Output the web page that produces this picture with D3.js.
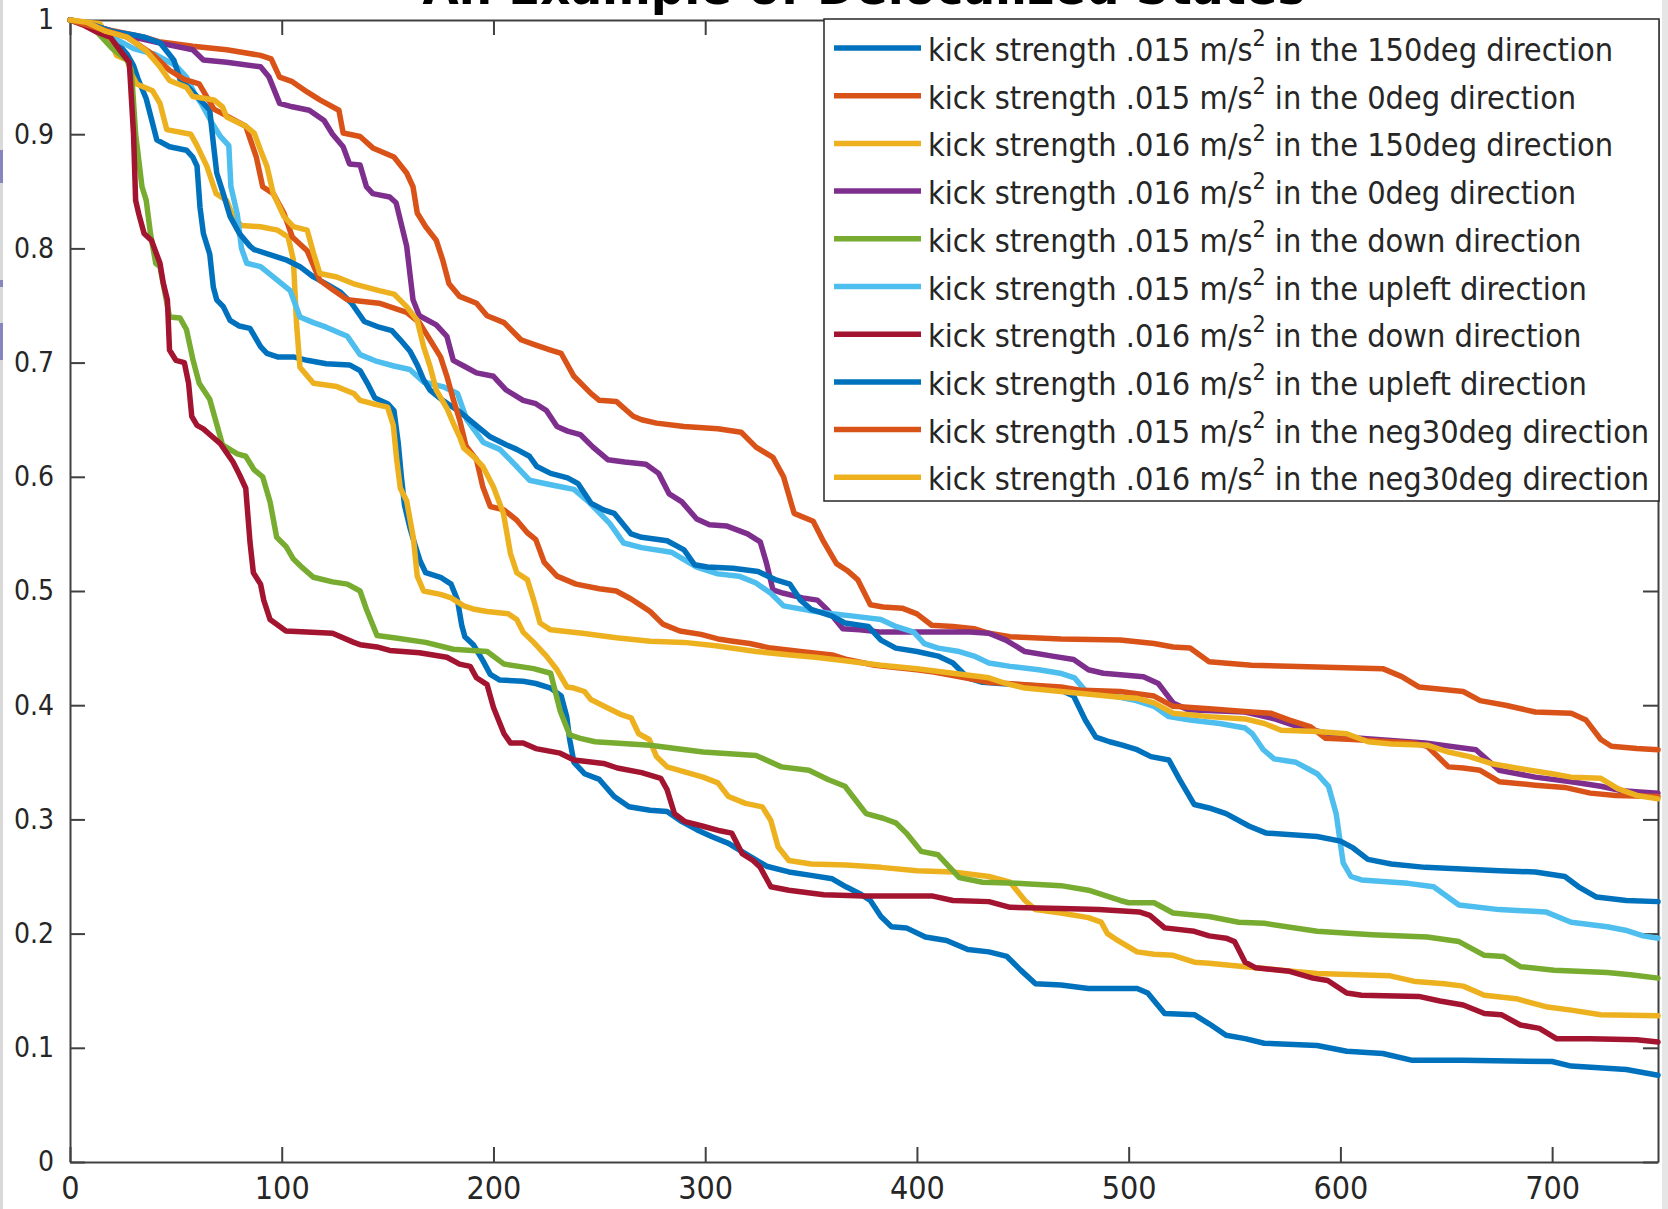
<!DOCTYPE html>
<html lang="en">
<head>
  <meta charset="UTF-8">
  <title>An Example of Delocalized States</title>
  <script src="https://d3js.org/d3.v7.min.js"></script>
  <style>
    body { margin: 0; background: #fff; }
    svg { display: block; }
    .tick text { fill: #262626; }
  </style>
</head>
<body>
<svg width="1668" height="1209"></svg>

<script>
  // tick values
  const xTicks = [0, 100, 200, 300, 400, 500, 600, 700];
  const yTicks = [0, 0.1, 0.2, 0.3, 0.4, 0.5, 0.6, 0.7, 0.8, 0.9, 1];

  // legend parts
  const strengths = [".015", ".015", ".016", ".016", ".015", ".015", ".016", ".016", ".015", ".016"];
  const directions = ["150deg", "0deg", "150deg", "0deg", "down", "upleft", "down", "upleft", "neg30deg", "neg30deg"];
  const colors = ["#0072BD", "#D95319", "#EDB120", "#7E2F8E", "#77AC30", "#4DBEEE", "#A2142F", "#0072BD", "#D95319", "#EDB120"];

  // series, [step, fraction]
  const s015_150 = [[0,1],[10,0.995],[20,0.985],[27,0.97],[30,0.96],[32,0.949],[36,0.931],[41,0.895],[47,0.889],[55,0.886],[58,0.88],[60,0.872],[61.4,0.836],[63,0.813],[66,0.795],[67.7,0.766],[69.3,0.755],[72.4,0.749],[75.6,0.737],[80,0.732],[85,0.73],[90,0.714],[93,0.708],[98,0.705],[105.5,0.705],[112,0.702],[121,0.699],[132,0.698],[137,0.693],[141,0.68],[144,0.669],[150,0.664],[153,0.658],[155,0.63],[156.5,0.6],[158,0.575],[160.6,0.555],[163,0.54],[165.4,0.526],[168,0.516],[175,0.512],[180,0.506],[183,0.492],[185,0.47],[186.5,0.46],[190.5,0.453],[195,0.439],[198.5,0.427],[203,0.422],[214,0.421],[220,0.419],[227,0.415],[232,0.408],[234.6,0.39],[236,0.37],[238,0.35],[243,0.34],[250,0.335],[257,0.32],[264,0.311],[274,0.308],[282,0.307],[289,0.298],[296,0.291],[303,0.285],[311,0.279],[319,0.27],[329,0.259],[339.5,0.254],[350,0.251],[360,0.248],[366.5,0.241],[373,0.235],[378,0.229],[383,0.215],[388,0.206],[395,0.205],[404,0.197],[414,0.194],[424,0.186],[434,0.184],[442.5,0.18],[449,0.168],[456,0.156],[468,0.155],[481,0.152],[504,0.152],[509,0.148],[517,0.13],[531,0.129],[538,0.121],[546,0.111],[555,0.108],[564,0.104],[589,0.102],[603,0.097],[620,0.095],[634,0.089],[658,0.089],[700,0.088],[709,0.084],[735,0.081],[750,0.076]];

  const s015_0 = [[0,1],[10,0.995],[19,0.991],[35,0.985],[42,0.981],[58,0.977],[74,0.974],[90,0.969],[95,0.966],[99,0.95],[105,0.946],[112,0.937],[118,0.93],[127,0.921],[129,0.901],[137,0.898],[143,0.888],[153,0.88],[159,0.866],[162,0.854],[164,0.831],[168,0.819],[173,0.807],[176,0.79],[179,0.769],[184,0.758],[192,0.752],[197,0.741],[205,0.735],[213,0.72],[219,0.716],[227,0.711],[232,0.708],[238,0.688],[246,0.673],[250,0.667],[258,0.666],[266,0.653],[270,0.65],[277,0.647],[290,0.644],[306,0.642],[317,0.639],[324,0.626],[332,0.617],[337,0.6],[342,0.568],[351,0.561],[356,0.543],[362,0.524],[367,0.518],[372,0.51],[378,0.488],[384,0.486],[393,0.485],[400,0.48],[407,0.47],[417,0.469],[427,0.467],[434,0.463],[444,0.46],[468,0.458],[496,0.457],[512,0.454],[521,0.451],[529,0.45],[538,0.438],[558,0.435],[620,0.432],[629,0.425],[637,0.416],[658,0.412],[666,0.404],[678,0.4],[692,0.394],[709,0.393],[716,0.387],[723,0.37],[728,0.364],[740,0.362],[750,0.361]];

  const s016_150 = [[0,1],[7,0.998],[14,0.997],[19,0.982],[22,0.969],[27,0.965],[29,0.953],[31.5,0.944],[39,0.938],[42.5,0.927],[45.7,0.904],[57,0.9],[60,0.89],[64.6,0.872],[69,0.848],[74,0.842],[77,0.828],[81,0.82],[90,0.819],[98,0.816],[103,0.81],[105.5,0.79],[107,0.734],[108.6,0.696],[115,0.682],[126,0.679],[134,0.673],[137,0.667],[143,0.664],[150,0.661],[152.7,0.645],[154.3,0.615],[156,0.59],[159,0.579],[162.2,0.546],[164,0.513],[167,0.5],[175,0.497],[180,0.494],[186,0.487],[191,0.484],[197,0.482],[207,0.48],[211,0.475],[214,0.464],[219,0.455],[225,0.443],[230,0.431],[234.7,0.416],[238,0.415],[243,0.412],[246,0.405],[253.5,0.398],[260,0.392],[265,0.389],[268.6,0.375],[273.6,0.37],[277,0.355],[282,0.346],[299,0.337],[306,0.332],[311,0.32],[319,0.314],[327,0.311],[331,0.299],[334.4,0.276],[339.5,0.264],[350,0.261],[366.5,0.26],[383,0.258],[400,0.255],[417,0.254],[434,0.25],[444,0.245],[451,0.229],[456,0.221],[468,0.218],[481,0.214],[487,0.21],[490,0.2],[494,0.195],[504,0.184],[512,0.182],[521,0.181],[531,0.175],[538,0.174],[555,0.171],[572,0.168],[589,0.165],[623.5,0.163],[635.5,0.158],[649,0.156],[658,0.154],[668,0.146],[683,0.143],[697,0.136],[709,0.133],[723,0.129],[750,0.128]];

  const s016_0 = [[0,1],[10,0.996],[20,0.99],[30,0.985],[42,0.98],[58,0.974],[63,0.965],[74,0.963],[90,0.959],[94,0.95],[99,0.927],[105,0.924],[113,0.921],[120,0.912],[124,0.9],[129,0.889],[132,0.874],[137,0.873],[140,0.854],[143,0.848],[151,0.845],[154,0.84],[159,0.802],[162,0.755],[165,0.741],[173,0.733],[178,0.723],[181,0.702],[186,0.697],[192,0.691],[200,0.688],[206,0.676],[214,0.667],[220,0.664],[225,0.658],[230,0.644],[235,0.64],[241,0.637],[247,0.626],[254,0.615],[262,0.613],[272,0.611],[278,0.603],[283,0.585],[289,0.578],[296,0.563],[302,0.558],[310,0.557],[320,0.55],[326,0.543],[329,0.524],[332,0.501],[337,0.498],[346,0.494],[353,0.492],[358,0.483],[365,0.467],[373,0.466],[383,0.464],[425,0.464],[434,0.463],[442,0.457],[451,0.447],[464,0.443],[474,0.44],[481,0.431],[488,0.428],[507,0.425],[514,0.419],[521,0.402],[528,0.396],[555,0.394],[569,0.388],[582,0.38],[603,0.372],[640,0.367],[664,0.361],[675,0.343],[692,0.337],[709,0.333],[723,0.329],[733,0.325],[750,0.323]];

  const s015_down = [[0,1],[10,0.995],[20,0.975],[27,0.965],[29,0.956],[31,0.9],[34,0.854],[36,0.842],[38,0.813],[40.5,0.787],[42.5,0.784],[47,0.74],[52,0.739],[55,0.729],[58,0.703],[61,0.682],[66,0.668],[69,0.648],[72,0.628],[79,0.62],[83,0.618],[87,0.606],[91,0.6],[94.5,0.578],[97.6,0.547],[102,0.539],[105.5,0.528],[110,0.52],[115,0.512],[124,0.508],[131,0.506],[137,0.5],[140,0.484],[145,0.461],[153,0.459],[168,0.455],[181,0.449],[197,0.447],[205,0.436],[219,0.432],[227,0.428],[231.5,0.395],[236,0.374],[241,0.371],[248,0.368],[274,0.365],[299,0.359],[324,0.356],[336,0.346],[349,0.343],[358,0.335],[366,0.329],[371,0.317],[376,0.305],[384,0.301],[390,0.297],[395,0.288],[402,0.272],[410,0.269],[420,0.249],[431,0.245],[447,0.244],[468,0.242],[481,0.238],[496,0.229],[500,0.227],[512,0.227],[521,0.218],[538,0.215],[552,0.21],[564,0.209],[589,0.202],[615,0.199],[641,0.197],[656,0.193],[668,0.181],[677,0.18],[685,0.171],[701,0.168],[726,0.166],[737,0.164],[750,0.161]];

  const s015_upleft = [[0,1],[10,0.995],[20,0.985],[30,0.975],[40,0.97],[50,0.96],[55,0.95],[59,0.935],[62,0.927],[67,0.91],[71,0.898],[75,0.89],[76,0.854],[79,0.83],[81,0.8],[83.5,0.787],[90,0.784],[96,0.775],[104,0.763],[108.6,0.74],[115,0.735],[121,0.731],[131,0.723],[137,0.707],[145,0.701],[153,0.697],[160.5,0.694],[167,0.683],[176,0.679],[183,0.673],[187.4,0.65],[195.3,0.63],[203,0.624],[211,0.609],[217,0.597],[227,0.593],[238,0.589],[245,0.578],[255,0.559],[261.5,0.542],[270,0.538],[284,0.534],[296,0.521],[306,0.515],[316,0.513],[324,0.507],[331,0.498],[337,0.487],[349,0.483],[360,0.48],[370,0.478],[383,0.475],[390,0.469],[398.5,0.464],[403.5,0.454],[410,0.45],[420,0.447],[427,0.443],[434,0.437],[444,0.434],[457.5,0.431],[467.6,0.428],[474.4,0.424],[479.4,0.413],[488,0.41],[496,0.407],[503.6,0.404],[512,0.399],[519,0.39],[529,0.387],[543,0.384],[555,0.38],[558.4,0.375],[563.6,0.361],[568.7,0.353],[579,0.35],[589,0.34],[594.4,0.329],[598,0.305],[601.3,0.262],[605,0.25],[610,0.247],[632,0.244],[644,0.241],[656,0.225],[675,0.221],[697,0.219],[709,0.21],[726,0.206],[734.6,0.203],[743,0.198],[750,0.196]];

  const s016_down = [[0,1],[7,0.995],[12,0.99],[19,0.985],[25,0.97],[28,0.963],[30,0.9],[31,0.842],[32.5,0.83],[35,0.813],[38.5,0.807],[42.5,0.787],[44,0.77],[46,0.755],[47,0.711],[50,0.702],[54,0.7],[56,0.682],[57.5,0.653],[60,0.645],[63,0.642],[66,0.637],[71,0.629],[77,0.613],[80,0.602],[83,0.59],[85,0.543],[86.6,0.516],[90,0.506],[91.5,0.492],[94.5,0.475],[102,0.465],[124,0.463],[134,0.455],[137,0.453],[145,0.451],[151,0.448],[165,0.446],[178,0.442],[184,0.436],[189,0.434],[192,0.424],[197,0.418],[200,0.398],[205,0.375],[208,0.367],[214,0.367],[220,0.362],[231.5,0.358],[238,0.352],[252,0.349],[258.5,0.345],[270,0.341],[279,0.336],[282,0.326],[285.5,0.305],[290.5,0.298],[299,0.294],[307,0.29],[312.5,0.288],[317.5,0.27],[322.6,0.264],[326,0.258],[331,0.241],[339.5,0.238],[356,0.234],[375,0.233],[407,0.233],[417,0.229],[434,0.228],[444,0.223],[468,0.222],[486,0.221],[505,0.219],[510,0.216],[517,0.205],[531,0.202],[538,0.198],[546,0.196],[550,0.193],[555,0.175],[560,0.17],[576,0.167],[587,0.161],[594,0.159],[603,0.148],[610,0.146],[637,0.145],[647,0.141],[658,0.1375],[668,0.13],[676,0.129],[685,0.12],[694,0.117],[702,0.108],[718,0.108],[740,0.107],[750,0.105]];

  const s016_upleft = [[0,1],[10,0.996],[20,0.99],[30,0.987],[35,0.985],[42.5,0.98],[49,0.965],[52,0.948],[57,0.939],[63,0.927],[66,0.921],[67.7,0.892],[69.3,0.866],[72.4,0.848],[75.6,0.828],[80,0.813],[85,0.802],[87,0.799],[102,0.79],[108.6,0.784],[115,0.775],[121,0.769],[127.5,0.762],[133,0.752],[139,0.736],[146,0.731],[152,0.728],[156,0.72],[160.6,0.71],[164,0.698],[167,0.685],[170,0.676],[176,0.667],[184,0.657],[190.5,0.647],[198.4,0.635],[206,0.628],[211,0.624],[217,0.618],[220.5,0.609],[227,0.603],[235,0.599],[240,0.594],[246,0.577],[252,0.571],[257,0.568],[265,0.55],[270,0.547],[282,0.544],[290,0.536],[295,0.523],[301,0.521],[313,0.52],[325,0.517],[333,0.51],[340,0.506],[345,0.492],[350,0.484],[360,0.478],[366,0.472],[377,0.469],[383,0.457],[390,0.45],[400,0.447],[410,0.443],[417,0.437],[424,0.424],[431,0.42],[447.5,0.418],[456,0.417],[468,0.413],[474,0.408],[479.5,0.387],[484.5,0.372],[491,0.368],[497,0.365],[504,0.361],[510.5,0.355],[519,0.352],[524,0.335],[531,0.313],[538,0.31],[546,0.305],[557,0.294],[565,0.288],[589,0.285],[600,0.281],[606,0.275],[613,0.265],[624,0.261],[640,0.258],[675,0.255],[692,0.254],[706,0.25],[712.5,0.241],[721,0.232],[735,0.229],[750,0.228]];

  const s015_neg30 = [[0,1],[11,0.994],[27,0.985],[39,0.97],[47,0.956],[54,0.948],[61,0.944],[68,0.922],[74,0.916],[83,0.907],[88,0.88],[91,0.854],[96,0.848],[101,0.831],[105,0.81],[112,0.798],[118,0.772],[124,0.764],[131,0.755],[146,0.752],[159,0.744],[165,0.735],[170,0.72],[175,0.705],[178,0.688],[181,0.668],[184,0.65],[187,0.627],[192,0.615],[195,0.591],[198.5,0.574],[205,0.571],[211,0.562],[216,0.551],[220,0.545],[224,0.525],[230,0.513],[239,0.506],[250,0.502],[258,0.5],[265,0.493],[270,0.487],[274,0.482],[280,0.471],[288,0.465],[298,0.462],[306,0.458],[313,0.456],[321,0.454],[331,0.45],[345,0.447],[360,0.444],[367,0.44],[380,0.435],[400,0.431],[408,0.429],[417,0.426],[434,0.42],[451,0.418],[468,0.416],[478,0.413],[496,0.412],[512,0.408],[521,0.399],[538,0.397],[558,0.394],[567,0.393],[576,0.387],[586,0.381],[593,0.371],[606,0.37],[634,0.367],[641,0.364],[651,0.346],[658,0.345],[666,0.343],[675,0.333],[692,0.33],[706,0.328],[718,0.323],[730,0.321],[750,0.32]];

  const s016_neg30 = [[0,1],[8,0.998],[17,0.99],[27,0.985],[36,0.973],[42.5,0.959],[47,0.947],[55,0.941],[58,0.933],[68,0.93],[72,0.924],[74,0.915],[83,0.907],[87,0.901],[90,0.886],[93,0.872],[96,0.848],[101,0.828],[105.5,0.819],[112,0.816],[115,0.796],[118,0.778],[126,0.775],[134,0.769],[146,0.763],[153,0.76],[159,0.749],[164,0.737],[167,0.714],[170,0.697],[173,0.676],[178,0.66],[181,0.647],[184,0.635],[186,0.625],[191,0.617],[195,0.609],[200,0.591],[204.7,0.568],[208,0.533],[211,0.516],[216,0.51],[219,0.492],[222,0.472],[227,0.466],[242,0.463],[258,0.459],[274,0.456],[290,0.455],[305,0.452],[324,0.447],[340,0.444],[352,0.442],[366,0.439],[383,0.435],[400,0.432],[417,0.428],[434,0.424],[442,0.419],[451,0.415],[468,0.412],[485,0.409],[496,0.407],[504,0.406],[512,0.402],[521,0.393],[538,0.39],[555,0.388],[564,0.384],[572,0.378],[589,0.377],[603,0.375],[613,0.368],[624,0.366],[641,0.365],[651,0.359],[661,0.355],[671,0.349],[683,0.345],[700,0.34],[709,0.337],[723,0.336],[731,0.327],[740,0.321],[750,0.318]];

  const allSeries = [s015_150, s015_0, s016_150, s016_0, s015_down, s015_upleft, s016_down, s016_upleft, s015_neg30, s016_neg30];

  const svg = d3.select("svg");
  const width = +svg.attr("width");
  const height = +svg.attr("height");
  const margin = {top: 20, right: 10, bottom: 47, left: 70};

  const x = d3.scaleLinear().domain([0, 750]).range([margin.left, width - margin.right]);
  const y = d3.scaleLinear().domain([0, 1]).range([height - margin.bottom, margin.top]);

  // window edges of the screenshot
  svg.append("rect").attr("x", 0).attr("y", 0).attr("width", 3).attr("height", height).attr("fill", "#d9d9d9");
  svg.append("rect").attr("x", width - 6).attr("y", 0).attr("width", 6).attr("height", height).attr("fill", "#e6e6e6");
  [[150, 33], [280, 7], [323, 37]].forEach(([top, h]) => {
    svg.append("rect").attr("x", 0).attr("y", top).attr("width", 3).attr("height", h).attr("fill", "#8585c0");
  });

  const axisColor = "#404040";
  const tickFont = "'DejaVu Sans Condensed', 'DejaVu Sans', sans-serif";

  // Axes
  const gx = svg.append("g")
    .attr("transform", `translate(0,${y(0)})`)
    .call(d3.axisBottom(x).tickValues(xTicks).tickSize(-15).tickSizeOuter(0).tickPadding(14));
  gx.selectAll("text").style("font-family", tickFont).style("font-size", "32px");

  const gy = svg.append("g")
    .attr("transform", `translate(${x(0)},0)`)
    .call(d3.axisLeft(y).tickValues(yTicks).tickSize(-15).tickSizeOuter(0).tickPadding(16)
      .tickFormat(d => d3.format("~g")(d)));
  gy.selectAll("text").style("font-family", tickFont).style("font-size", "28px");

  svg.append("g")
    .attr("transform", `translate(0,${y(1)})`)
    .call(d3.axisTop(x).tickValues(xTicks).tickSize(-15).tickSizeOuter(0).tickFormat(""));
  svg.append("g")
    .attr("transform", `translate(${x(750)},0)`)
    .call(d3.axisRight(y).tickValues(yTicks).tickSize(-15).tickSizeOuter(0).tickFormat(""));

  svg.selectAll(".domain, .tick line").attr("stroke", axisColor).attr("stroke-width", 2);

  // Lines
  const line = d3.line().x(d => x(d[0])).y(d => y(d[1]));
  svg.append("g")
    .selectAll("path")
    .data(allSeries)
    .join("path")
      .attr("d", line)
      .attr("fill", "none")
      .attr("stroke", (d, i) => colors[i])
      .attr("stroke-width", 5.5)
      .attr("stroke-linejoin", "round")
      .attr("stroke-linecap", "round");

  // Legend
  const legX = 824, legY = 19, legW = 835, legH = 482, rowStep = 47.7;
  const legend = svg.append("g");
  legend.append("rect")
    .attr("x", legX).attr("y", legY).attr("width", legW).attr("height", legH)
    .attr("fill", "#fff").attr("stroke", "#262626").attr("stroke-width", 1.5);

  strengths.forEach((s, i) => {
    const cy = legY + 29 + i * rowStep;
    legend.append("line")
      .attr("x1", legX + 10).attr("x2", legX + 97)
      .attr("y1", cy).attr("y2", cy)
      .attr("stroke", colors[i]).attr("stroke-width", 5.5);
    const t = legend.append("text")
      .attr("x", legX + 104).attr("y", cy + 13)
      .style("font-family", tickFont)
      .style("font-size", "32.2px")
      .attr("fill", "#262626");
    t.append("tspan").text(`kick strength ${s} m/s`);
    t.append("tspan").attr("dy", -15).style("font-size", "23px").text("2");
    t.append("tspan").attr("dy", 15).text(` in the ${directions[i]} direction`);
  });

  // Title (cut off at the top, as in the source figure)
  svg.append("text")
    .attr("x", (x(0) + x(750)) / 2)
    .attr("y", 4)
    .attr("text-anchor", "middle")
    .style("font-family", tickFont)
    .style("font-size", "52px")
    .style("font-weight", "bold")
    .attr("fill", "#000")
    .text("An Example of Delocalized States");
</script>
</body>
</html>
